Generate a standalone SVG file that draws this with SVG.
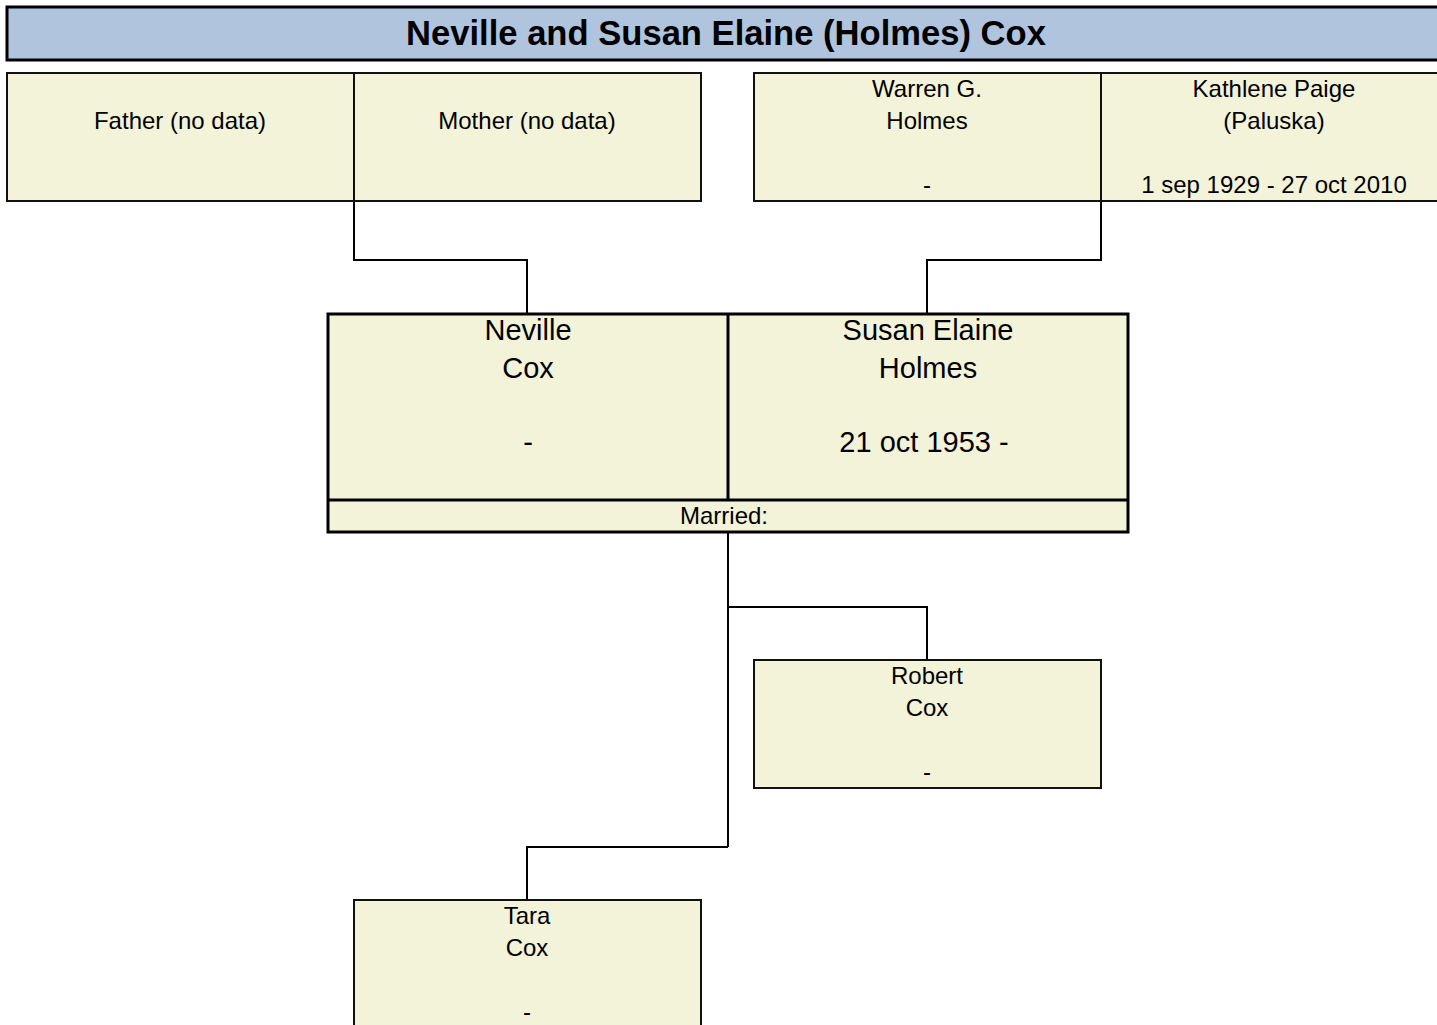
<svg xmlns="http://www.w3.org/2000/svg" width="1437" height="1025" viewBox="0 0 1437 1025">
<style>
.box{fill:#f3f3da;stroke:#111;stroke-width:2}
.big{fill:#f3f3da;stroke:#000;stroke-width:3}
.t{font-family:"Liberation Sans",Arial,sans-serif;font-size:24px;fill:#000;text-anchor:middle}
.tb{font-family:"Liberation Sans",Arial,sans-serif;font-size:29px;fill:#000;text-anchor:middle}
.conn{fill:none;stroke:#000;stroke-width:2}
</style>
<rect width="1437" height="1025" fill="#fff"/>
<g id="title">
<rect x="7" y="7" width="1440" height="53" fill="#b0c4de" stroke="#000" stroke-width="3"/>
<text x="726" y="45" font-family="'Liberation Sans',Arial,sans-serif" font-size="34.6" font-weight="bold" text-anchor="middle">Neville and Susan Elaine (Holmes) Cox</text>
</g>
<g id="connectors">
<path class="conn" d="M354,201V260H527V314"/>
<path class="conn" d="M1101,201V260H927V314"/>
<path class="conn" d="M728,532V847"/>
<path class="conn" d="M728,607H927V660"/>
<path class="conn" d="M728,847H527V900"/>
</g>
<g id="father">
<rect class="box" x="7" y="73" width="347" height="128"/>
<text class="t" x="180" y="129">Father (no data)</text>
</g>
<g id="mother">
<rect class="box" x="354" y="73" width="347" height="128"/>
<text class="t" x="527" y="129">Mother (no data)</text>
</g>
<g id="warren">
<rect class="box" x="754" y="73" width="347" height="128"/>
<text class="t" x="927" y="97">Warren G.</text>
<text class="t" x="927" y="129">Holmes</text>
<text class="t" x="927" y="193">-</text>
</g>
<g id="kathlene">
<rect class="box" x="1101" y="73" width="347" height="128"/>
<text class="t" x="1274" y="97">Kathlene Paige</text>
<text class="t" x="1274" y="129">(Paluska)</text>
<text class="t" x="1274" y="193">1 sep 1929 - 27 oct 2010</text>
</g>
<g id="couple">
<rect class="big" x="328" y="314" width="800" height="218"/>
<line x1="728" y1="314" x2="728" y2="500" stroke="#000" stroke-width="3"/>
<line x1="328" y1="500" x2="1128" y2="500" stroke="#000" stroke-width="3"/>
<text class="tb" x="528" y="340">Neville</text>
<text class="tb" x="528" y="378">Cox</text>
<text class="tb" x="528" y="452">-</text>
<text class="tb" x="928" y="340">Susan Elaine</text>
<text class="tb" x="928" y="378">Holmes</text>
<text class="tb" x="924" y="452">21 oct 1953 -</text>
<text class="t" x="724" y="524">Married:</text>
</g>
<g id="robert">
<rect class="box" x="754" y="660" width="347" height="128"/>
<text class="t" x="927" y="684">Robert</text>
<text class="t" x="927" y="716">Cox</text>
<text class="t" x="927" y="780">-</text>
</g>
<g id="tara">
<rect class="box" x="354" y="900" width="347" height="135"/>
<text class="t" x="527" y="924">Tara</text>
<text class="t" x="527" y="956">Cox</text>
<text class="t" x="527" y="1020">-</text>
</g>
</svg>
